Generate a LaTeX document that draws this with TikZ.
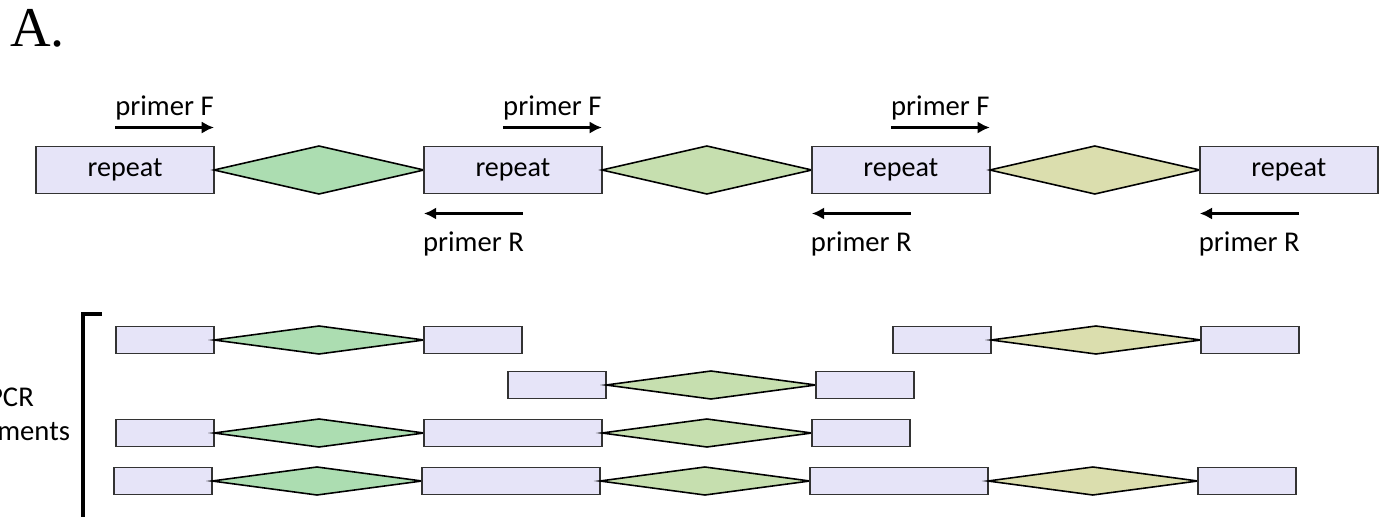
\documentclass[tikz,border=0pt]{standalone}
\usepackage{fontspec}
\setmainfont{Carlito}
\newfontfamily\titlefont{Liberation Serif}
\usetikzlibrary{positioning,shapes.geometric,arrows.meta}
\definecolor{repfill}{HTML}{E6E4F8}
\definecolor{gapa}{HTML}{ACDDB1}
\definecolor{gapb}{HTML}{C6DFAF}
\definecolor{gapc}{HTML}{DBDEAE}
\tikzset{
  repeatbox/.style={draw=black!80, fill=repfill, line width=0.9pt, minimum width=3.56cm,
    minimum height=0.94cm, inner sep=0pt, outer sep=0pt, font=\fontsize{16}{19}\selectfont},
  shortbox/.style={repeatbox, minimum width=1.96cm, minimum height=0.54cm},
  gap/.style={diamond, draw=black, line width=0.9pt, inner sep=0pt, outer sep=0pt,
    minimum width=4.2cm, minimum height=0.96cm},
  shortgap/.style={gap, minimum height=0.56cm},
  primer/.style={->, line width=2pt},
  lbl/.style={font=\fontsize{16.3}{19}\selectfont}
}
\begin{document}
\begin{tikzpicture}[>={Latex[length=7pt,width=7pt]}, x=0.02cm, y=-0.02cm, node distance=0pt]
\useasboundingbox (0,0) rectangle (1386,517);
\node[anchor=base west, inner sep=0pt, font=\titlefont\fontsize{32}{36}\selectfont] (title) at (10,47) {A.};

% genome with repeats
\node[repeatbox] (r1) at (125,170) {repeat};
\node[gap, fill=gapa, right=of r1] (g1) {};
\node[repeatbox, right=of g1] (r2) {repeat};
\node[gap, fill=gapb, right=of r2] (g2) {};
\node[repeatbox, right=of g2] (r3) {repeat};
\node[gap, fill=gapc, right=of r3] (g3) {};
\node[repeatbox, right=of g3] (r4) {repeat};

% primers
\draw[primer] ([shift={(-0.2cm,0.38cm)}]r1.north) -- ([yshift=0.38cm]r1.north east) node[lbl, midway, above]{primer F};
\draw[primer] ([shift={(-0.2cm,0.38cm)}]r2.north) -- ([yshift=0.38cm]r2.north east) node[lbl, midway, above]{primer F};
\draw[primer] ([shift={(-0.2cm,0.38cm)}]r3.north) -- ([yshift=0.38cm]r3.north east) node[lbl, midway, above]{primer F};
\draw[primer] ([shift={(0.2cm,-0.4cm)}]r2.south) -- ([yshift=-0.4cm]r2.south west) node[lbl, midway, below=0.22cm]{primer R};
\draw[primer] ([shift={(0.2cm,-0.4cm)}]r3.south) -- ([yshift=-0.4cm]r3.south west) node[lbl, midway, below=0.22cm]{primer R};
\draw[primer] ([shift={(0.2cm,-0.4cm)}]r4.south) -- ([yshift=-0.4cm]r4.south west) node[lbl, midway, below=0.22cm]{primer R};

% PCR fragments
\draw[line width=2.2pt] (102,314) -- (83,314) -- (83,530);
\node[lbl, align=center, font=\fontsize{16.3}{19.4}\selectfont] (pcr) at (11,417) {PCR\\fragments};

\node[shortbox] (a1) at (165,340) {};
\node[shortgap, fill=gapa, right=of a1] (ag1) {};
\node[shortbox, right=of ag1] (a2) {};
\node[shortbox] (d1) at (942,340) {};
\node[shortgap, fill=gapc, right=of d1] (dg1) {};
\node[shortbox, right=of dg1] (d2) {};

\node[shortbox] (b1) at (557,385) {};
\node[shortgap, fill=gapb, right=of b1] (bg1) {};
\node[shortbox, right=of bg1] (b2) {};

\node[shortbox] (c1) at (165,433) {};
\node[shortgap, fill=gapa, right=of c1] (cg1) {};
\node[shortbox, minimum width=3.56cm, right=of cg1] (c2) {};
\node[shortgap, fill=gapb, right=of c2] (cg2) {};
\node[shortbox, right=of cg2] (c3) {};

\node[shortbox] (e1) at (163,481) {};
\node[shortgap, fill=gapa, right=of e1] (eg1) {};
\node[shortbox, minimum width=3.56cm, right=of eg1] (e2) {};
\node[shortgap, fill=gapb, right=of e2] (eg2) {};
\node[shortbox, minimum width=3.56cm, right=of eg2] (e3) {};
\node[shortgap, fill=gapc, right=of e3] (eg3) {};
\node[shortbox, right=of eg3] (e4) {};
\end{tikzpicture}
\end{document}
